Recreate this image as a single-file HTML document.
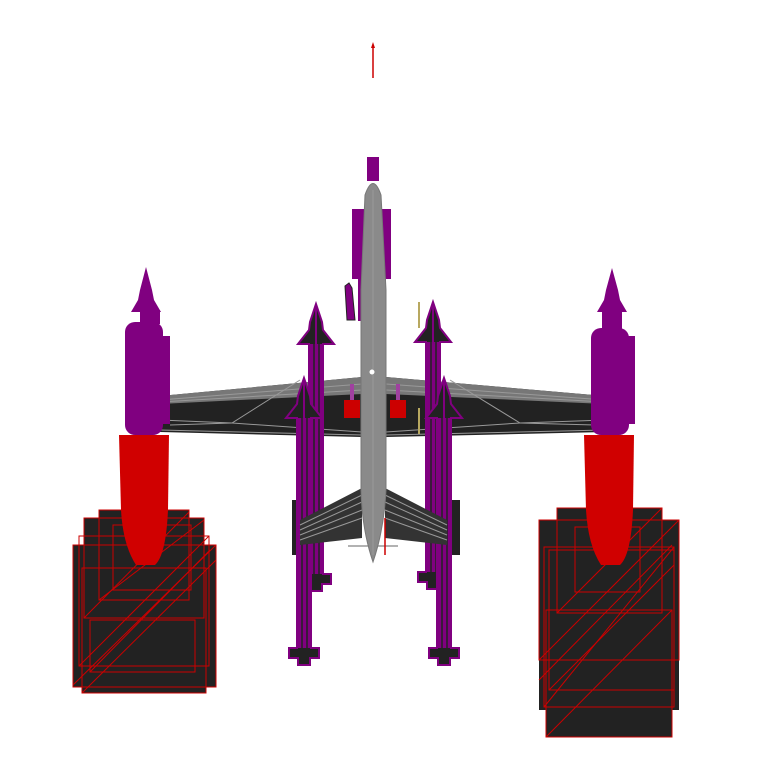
<!DOCTYPE html>
<html><head><meta charset="utf-8"><style>html,body{margin:0;padding:0;background:#fff}svg{display:block}</style></head>
<body>
<svg width="768" height="768" viewBox="0 0 768 768" xmlns="http://www.w3.org/2000/svg">
<defs>
<g id="msl">
  <polygon points="0,0 -6,18 -7,26 -18,40 -7,40 -7,270 -15,270 -15,280 -6,280 -6,287 6,287 6,280 15,280 15,270 7,270 7,40 18,40 7,26 6,18" fill="#222" stroke="#800080" stroke-width="2"/>
  <rect x="-7" y="40" width="14" height="230" fill="#800080"/>
  <line x1="-2" y1="40" x2="-2" y2="270" stroke="#222" stroke-width="1.5"/>
  <line x1="3" y1="40" x2="3" y2="270" stroke="#222" stroke-width="1.5"/>
  <line x1="0" y1="2" x2="0" y2="40" stroke="#800080" stroke-width="2"/>
</g>
</defs>
<line x1="373" y1="46" x2="373" y2="78" stroke="#c00" stroke-width="1.5"/>
<polygon points="373,42 371,48 375,48" fill="#c00"/>

<polygon points="160,396 362,377 362,437 160,432" fill="#222"/>
<polygon points="160,396 362,377 362,394 160,404" fill="#777"/>
<polygon points="386,377 605,396 605,432 386,437" fill="#222"/>
<polygon points="386,377 605,396 605,404 386,394" fill="#777"/>
<g stroke="#999" stroke-width="1" fill="none">
<line x1="160" y1="400" x2="362" y2="384"/><line x1="160" y1="402" x2="362" y2="390"/>
<line x1="386" y1="384" x2="605" y2="400"/><line x1="386" y1="390" x2="605" y2="402"/>
<polyline points="170,425 232,423 300,380"/><polyline points="160,420 232,423 362,432"/>
<line x1="160" y1="430" x2="362" y2="435"/><line x1="386" y1="435" x2="605" y2="430"/>
<polyline points="595,425 520,423 450,380"/><polyline points="605,420 520,423 386,432"/>
</g>

<use href="#msl" x="316" y="304"/>
<use href="#msl" x="433" y="302"/>
<rect x="292" y="500" width="16" height="55" fill="#222"/>
<rect x="442" y="500" width="18" height="55" fill="#222"/>
<use href="#msl" x="304" y="378"/>
<use href="#msl" x="444" y="378"/>

<polygon points="362,488 300,520 300,545 362,538" fill="#333"/>
<polygon points="385,488 447,520 447,545 385,538" fill="#333"/>
<g stroke="#999" stroke-width="1">
<line x1="362" y1="495" x2="300" y2="525"/><line x1="362" y1="502" x2="300" y2="530"/><line x1="362" y1="510" x2="300" y2="535"/><line x1="362" y1="518" x2="300" y2="540"/>
<line x1="385" y1="495" x2="447" y2="525"/><line x1="385" y1="502" x2="447" y2="530"/><line x1="385" y1="510" x2="447" y2="535"/><line x1="385" y1="518" x2="447" y2="540"/>
<line x1="348" y1="546" x2="398" y2="546" stroke="#666"/>
</g>

<rect x="352" y="209" width="39" height="70" fill="#800080"/>
<rect x="358" y="279" width="28" height="42" fill="#800080"/>
<rect x="367" y="157" width="12" height="24" fill="#800080"/>
<polygon points="345,286 349,283 352,288 355,320 347,320" fill="#800080" stroke="#222" stroke-width="1"/>

<path d="M365,195 Q373,172 381,195 L386,290 L386,490 Q384,530 373,562 Q362,530 361,490 L361,290 Z" fill="#8a8a8a" stroke="#777"/>
<line x1="373" y1="190" x2="373" y2="555" stroke="#999"/>
<circle cx="372" cy="372" r="2.5" fill="#fff"/>

<rect x="344" y="400" width="16" height="18" fill="#c00"/>
<rect x="390" y="400" width="16" height="18" fill="#c00"/>
<rect x="350" y="384" width="4" height="16" fill="#a040a0"/>
<rect x="396" y="384" width="4" height="16" fill="#a040a0"/>
<line x1="419" y1="302" x2="419" y2="328" stroke="#b8a860" stroke-width="2"/>
<line x1="419" y1="408" x2="419" y2="434" stroke="#b8a860" stroke-width="2"/>
<line x1="385" y1="518" x2="385" y2="555" stroke="#c00" stroke-width="1.5"/>

<polygon points="146,267 152,290 154,300 161,312 131,312 138,300 140,290" fill="#800080"/>
<rect x="140" y="310" width="20" height="14" fill="#800080"/>
<rect x="125" y="322" width="38" height="113" rx="10" fill="#800080"/>
<rect x="155" y="336" width="15" height="88" fill="#800080"/>

<polygon points="612,268 618,290 620,300 627,312 597,312 604,300 606,290" fill="#800080"/>
<rect x="602" y="310" width="20" height="20" fill="#800080"/>
<rect x="591" y="328" width="38" height="107" rx="10" fill="#800080"/>
<rect x="620" y="336" width="15" height="88" fill="#800080"/>

<g fill="#222"><rect x="99" y="510" width="90" height="20"/><rect x="84" y="518" width="120" height="30"/><rect x="73" y="545" width="143" height="142"/><rect x="82" y="680" width="124" height="13"/></g>
<g fill="none" stroke="#c00" stroke-width="1">
<rect x="99" y="510" width="90" height="90"/><rect x="84" y="518" width="120" height="100"/><rect x="79" y="536" width="130" height="130"/><rect x="73" y="545" width="143" height="142"/><rect x="82" y="568" width="124" height="125"/><rect x="113" y="525" width="78" height="65"/><rect x="90" y="620" width="105" height="52"/>
<line x1="73" y1="685" x2="216" y2="545"/><line x1="82" y1="693" x2="216" y2="560"/><line x1="84" y1="618" x2="189" y2="512"/><line x1="99" y1="600" x2="204" y2="520"/><line x1="79" y1="666" x2="209" y2="536"/><line x1="90" y1="672" x2="210" y2="550"/>
</g>
<path d="M119,435 L169,435 L168,510 Q166,555 155,565 L136,565 Q123,545 121,510 Z" fill="#d00000"/>

<g fill="#222"><rect x="557" y="508" width="105" height="15"/><rect x="539" y="520" width="140" height="190"/><rect x="546" y="700" width="126" height="37"/></g>
<g fill="none" stroke="#c00" stroke-width="1">
<rect x="557" y="508" width="105" height="105"/><rect x="539" y="520" width="140" height="140"/><rect x="544" y="547" width="130" height="160"/><rect x="546" y="610" width="126" height="127"/><rect x="575" y="527" width="65" height="65"/><rect x="549" y="550" width="125" height="140"/>
<line x1="539" y1="660" x2="679" y2="520"/><line x1="546" y1="737" x2="672" y2="610"/><line x1="544" y1="707" x2="674" y2="547"/><line x1="557" y1="613" x2="662" y2="508"/><line x1="549" y1="690" x2="674" y2="565"/><line x1="539" y1="680" x2="672" y2="545"/>
</g>
<path d="M584,435 L634,435 L633,510 Q631,555 620,565 L601,565 Q588,545 586,510 Z" fill="#d00000"/>
</svg>
</body></html>
